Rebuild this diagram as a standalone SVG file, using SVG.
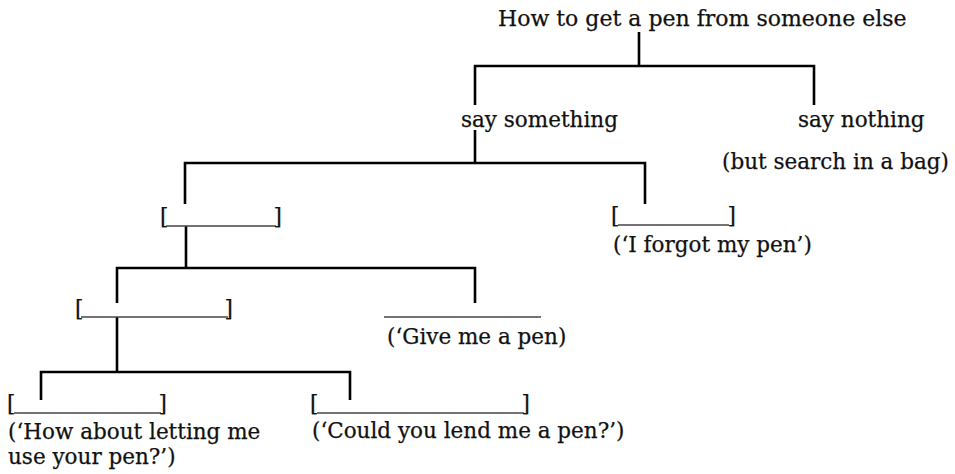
<svg xmlns="http://www.w3.org/2000/svg" width="955" height="474" viewBox="0 0 955 474">
<style>
text{font-family:"DejaVu Serif","Liberation Serif",serif;font-size:21.5px;fill:#111;stroke:#111;stroke-width:0.25}
.end{text-anchor:end}
.conn path{fill:none;stroke:#000;stroke-width:2.6}
.blank{stroke:#444;stroke-width:1.3}
</style>
<rect width="955" height="474" fill="#fff"/>
<g class="conn" id="connectors">
<path d="M639,32 V66 M475,105 V66 H814 V105"/>
<path d="M475,130 V163 M185,204 V163 H645 V204"/>
<path d="M186,226 V268 M117,303 V268 H475 V303"/>
<path d="M117,317 V372 M41,400 V372 H350 V400"/>
</g>
<g id="root"><text x="498" y="26" style="font-size:22px">How to get a pen from someone else</text></g>
<g id="say-something"><text x="461" y="127">say something</text></g>
<g id="say-nothing"><text x="798" y="127">say nothing</text><text x="722" y="169">(but search in a bag)</text></g>
<g id="blank1"><text x="160" y="224">[</text><line class="blank" x1="166" y1="226" x2="276" y2="226"/><text class="end" x="282" y="224">]</text></g>
<g id="forgot"><text x="611" y="223">[</text><line class="blank" x1="618" y1="225" x2="729" y2="225"/><text class="end" x="736" y="223">]</text><text x="613" y="252">(‘I forgot my pen’)</text></g>
<g id="blank3"><text x="75" y="316">[</text><line class="blank" x1="81" y1="317" x2="228" y2="317"/><text class="end" x="233" y="316">]</text></g>
<g id="give"><line class="blank" x1="384" y1="317" x2="541" y2="317"/><text x="387" y="344">(‘Give me a pen)</text></g>
<g id="howabout"><text x="7" y="411">[</text><line class="blank" x1="14" y1="413" x2="161" y2="413"/><text class="end" x="167" y="411">]</text><text x="8" y="439">(‘How about letting me</text><text x="8" y="464">use your pen?’)</text></g>
<g id="could"><text x="310" y="411">[</text><line class="blank" x1="317" y1="413" x2="524" y2="413"/><text class="end" x="530" y="411">]</text><text x="312" y="438">(‘Could you lend me a pen?’)</text></g>
</svg>
